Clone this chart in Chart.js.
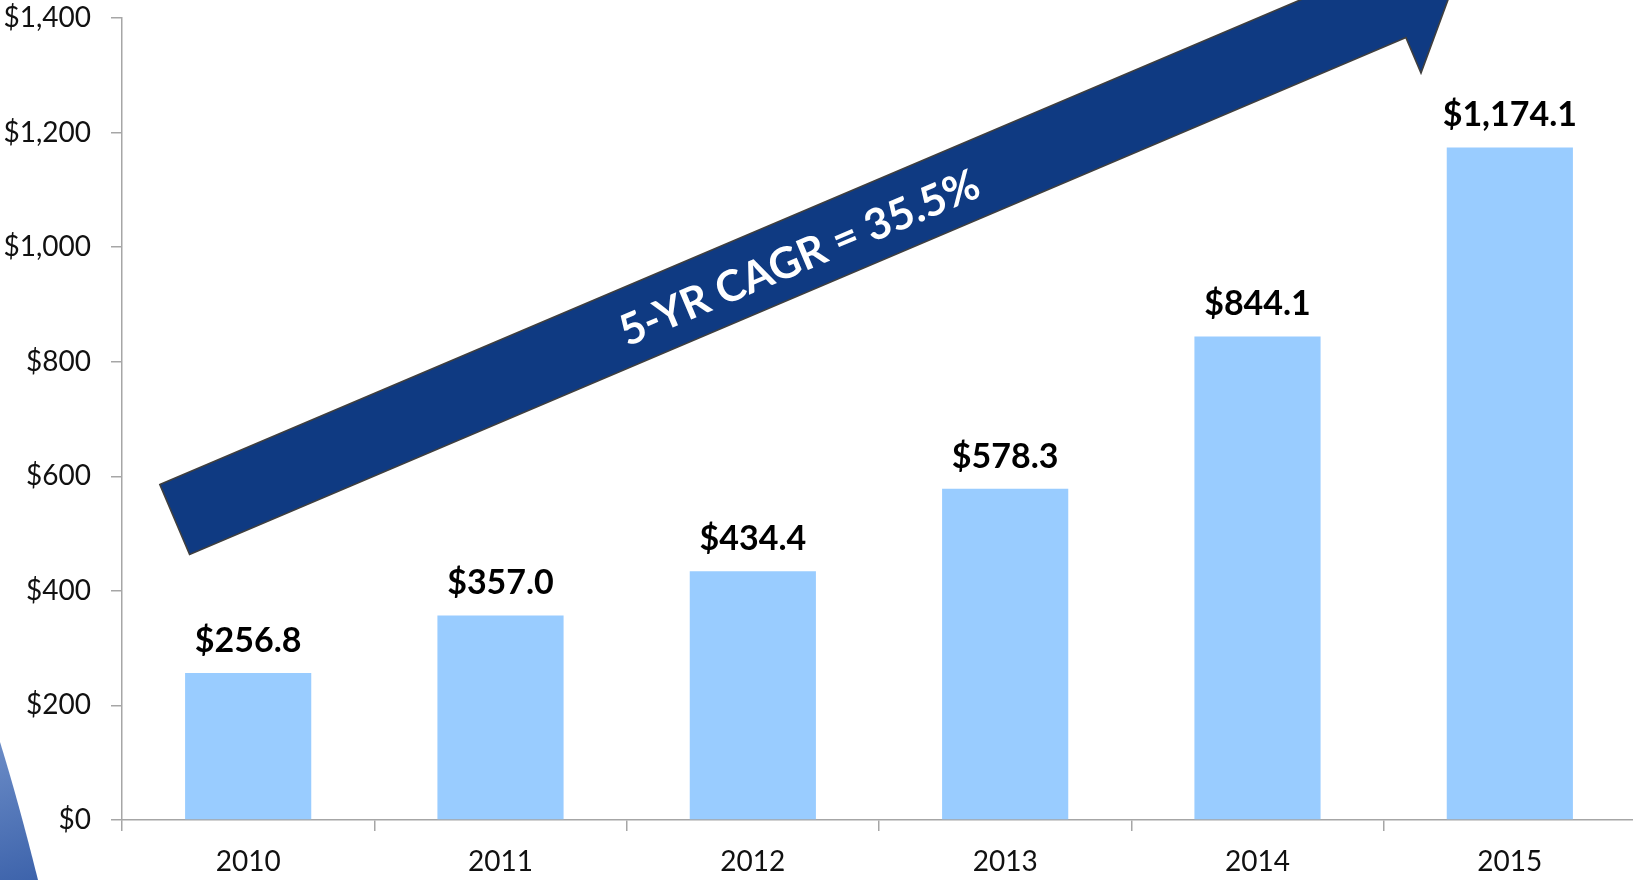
<!DOCTYPE html>
<html>
<head>
<meta charset="utf-8">
<script src="https://cdn.jsdelivr.net/npm/chart.js@4"></script>
<style>
  html, body { margin: 0; padding: 0; background: #fff; overflow: hidden; }
  #wrap { width: 1636px; height: 880px; }
</style>
</head>
<body>
<div id="wrap"><canvas id="c" width="1636" height="880"></canvas></div>
<script>
// ---- data ----
const years = ['2010', '2011', '2012', '2013', '2014', '2015'];
const revenue = [256.8, 357.0, 434.4, 578.3, 844.1, 1174.1];
const valueLabels = ['$256.8', '$357.0', '$434.4', '$578.3', '$844.1', '$1,174.1'];
const yTicks = [0, 200, 400, 600, 800, 1000, 1200, 1400];
const cagrText = '5-YR CAGR = 35.5%';

const FONT = 'Lato, "Open Sans", "Noto Sans", sans-serif';

// arrow annotation anchored in scale units (category index, value)
const arrowTail = { x: -0.291, y: 524.5 };
const arrowTip = { x: 4.792, y: 1476 };

const fmt = v => '$' + v.toLocaleString('en-US');

const decorPlugin = {
  id: 'decor',
  beforeDraw(chart) {
    const ctx = chart.ctx;
    const h = chart.height;
    ctx.save();
    const g = ctx.createLinearGradient(0, h - 135, 40, h);
    g.addColorStop(0, '#6a8bc6');
    g.addColorStop(1, '#3d63ab');
    ctx.beginPath();
    ctx.moveTo(0, h - 138);
    ctx.quadraticCurveTo(18, h - 80, 38, h);
    ctx.lineTo(0, h);
    ctx.closePath();
    ctx.fillStyle = g;
    ctx.fill();
    ctx.restore();
  },
  afterDatasetsDraw(chart) {
    const ctx = chart.ctx;
    const xs = chart.scales.x, ys = chart.scales.y;
    const meta = chart.getDatasetMeta(0);
    ctx.save();
    ctx.font = 'bold 34px ' + FONT;
    ctx.fillStyle = '#000';
    ctx.textAlign = 'center';
    ctx.textBaseline = 'middle';
    meta.data.forEach((bar, i) => {
      ctx.fillText(valueLabels[i], bar.x, bar.y - 32);
    });
    ctx.restore();

    const tx = xs.getPixelForValue(arrowTail.x), ty = ys.getPixelForValue(arrowTail.y);
    const px = xs.getPixelForValue(arrowTip.x), py = ys.getPixelForValue(arrowTip.y);
    const len = Math.hypot(px - tx, py - ty);
    const ang = Math.atan2(py - ty, px - tx);
    const bodyHalf = 38, headHalf = 76.5, headLen = 72;
    ctx.save();
    ctx.translate(tx, ty);
    ctx.rotate(ang);
    ctx.beginPath();
    ctx.moveTo(0, -bodyHalf);
    ctx.lineTo(len - headLen, -bodyHalf);
    ctx.lineTo(len - headLen, -headHalf);
    ctx.lineTo(len, 0);
    ctx.lineTo(len - headLen, headHalf);
    ctx.lineTo(len - headLen, bodyHalf);
    ctx.lineTo(0, bodyHalf);
    ctx.closePath();
    ctx.fillStyle = '#0f3a82';
    ctx.fill();
    ctx.lineWidth = 1.6;
    ctx.strokeStyle = '#3f3f3f';
    ctx.stroke();
    ctx.fillStyle = '#ffffff';
    ctx.font = 'bold 43px ' + FONT;
    ctx.textAlign = 'center';
    ctx.textBaseline = 'middle';
    ctx.fillText(cagrText, len * 0.486, 4);
    ctx.restore();
  }
};

new Chart(document.getElementById('c'), {
  type: 'bar',
  data: {
    labels: years,
    datasets: [{
      data: revenue,
      backgroundColor: '#99ccff',
      borderWidth: 0,
      barPercentage: 0.5,
      categoryPercentage: 1.0
    }]
  },
  options: {
    responsive: false,
    animation: false,
    devicePixelRatio: 1,
    layout: { padding: 0 },
    plugins: { legend: { display: false }, tooltip: { enabled: false } },
    scales: {
      x: {
        offset: true,
        grid: { offset: true, drawOnChartArea: false, drawTicks: true, tickLength: 11, color: '#a6a6a6', lineWidth: 1.5 },
        border: { display: true, color: '#a6a6a6', width: 1.5 },
        ticks: { color: '#111', font: { family: FONT, size: 28 }, padding: 14, maxRotation: 0, autoSkip: false },
        afterFit(scale) { scale.height = 60; }
      },
      y: {
        min: yTicks[0],
        max: yTicks[yTicks.length - 1],
        afterBuildTicks(scale) { scale.ticks = yTicks.map(v => ({ value: v })); },
        grid: { drawOnChartArea: false, drawTicks: true, tickLength: 11, color: '#a6a6a6', lineWidth: 1.5 },
        border: { display: true, color: '#a6a6a6', width: 1.5 },
        ticks: { color: '#111', font: { family: FONT, size: 28 }, padding: 20, callback: v => fmt(v) },
        afterFit(scale) { scale.width = 122; scale.paddingTop = 18; scale.paddingBottom = 18; }
      }
    }
  },
  plugins: [decorPlugin]
});
</script>
</body>
</html>
